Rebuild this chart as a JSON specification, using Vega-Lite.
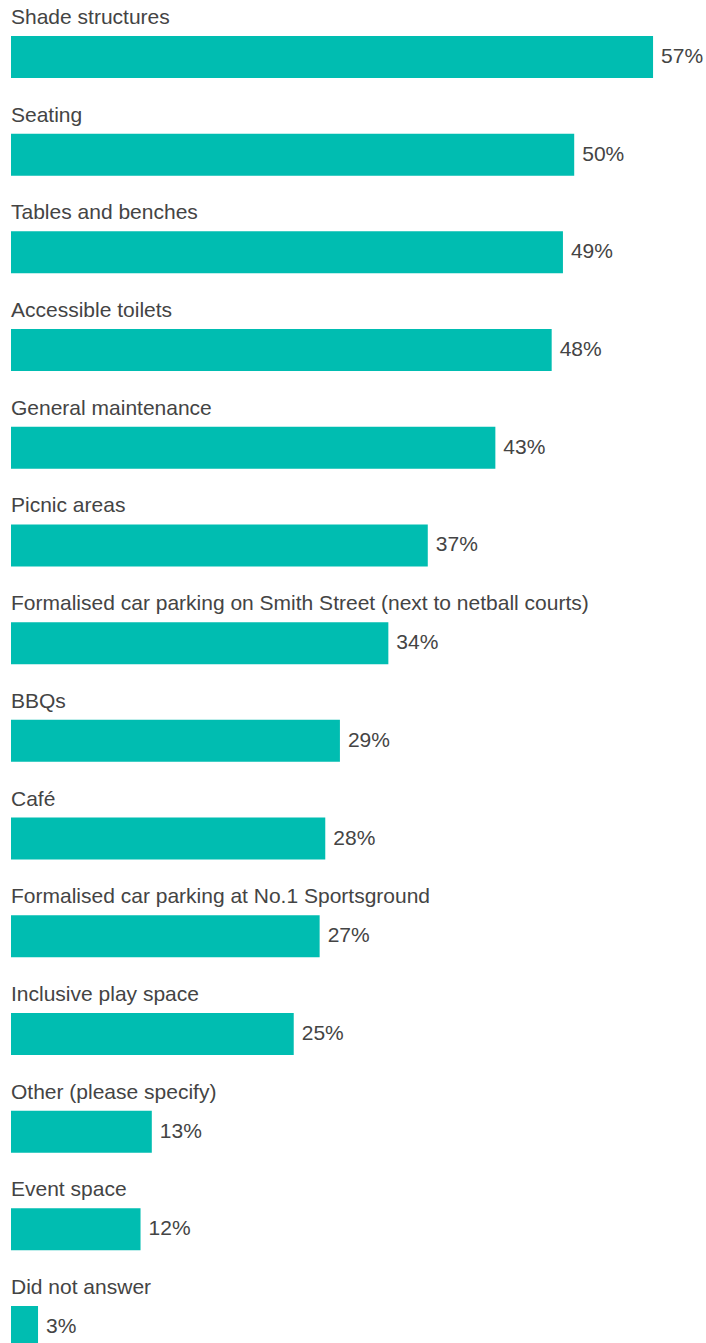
{
  "$schema": "https://vega.github.io/schema/vega-lite/v6.json",
  "autosize": {"type": "none"},
  "padding": {"left": 11, "top": 0, "right": 0, "bottom": 0},
  "width": 695,
  "height": 1384,
  "background": "#ffffff",
  "config": {"view": {"stroke": null}, "font": "Liberation Sans"},
  "data": {
    "values": [
      {"item": "Shade structures", "pct": 57, "label": "57%"},
      {"item": "Seating", "pct": 50, "label": "50%"},
      {"item": "Tables and benches", "pct": 49, "label": "49%"},
      {"item": "Accessible toilets", "pct": 48, "label": "48%"},
      {"item": "General maintenance", "pct": 43, "label": "43%"},
      {"item": "Picnic areas", "pct": 37, "label": "37%"},
      {"item": "Formalised car parking on Smith Street (next to netball courts)", "pct": 33.5, "label": "34%"},
      {"item": "BBQs", "pct": 29.2, "label": "29%"},
      {"item": "Café", "pct": 27.9, "label": "28%"},
      {"item": "Formalised car parking at No.1 Sportsground", "pct": 27.4, "label": "27%"},
      {"item": "Inclusive play space", "pct": 25.1, "label": "25%"},
      {"item": "Other (please specify)", "pct": 12.5, "label": "13%"},
      {"item": "Event space", "pct": 11.5, "label": "12%"},
      {"item": "Did not answer", "pct": 2.4, "label": "3%"}
    ]
  },
  "encoding": {
    "y": {
      "field": "item",
      "type": "nominal",
      "sort": null,
      "axis": null,
      "scale": {"paddingInner": 0.57, "paddingOuter": 0.368}
    }
  },
  "layer": [
    {
      "mark": {"type": "bar", "color": "#00BDB1"},
      "encoding": {
        "x": {"field": "pct", "type": "quantitative", "axis": null, "scale": {"domain": [0, 61.7], "nice": false}}
      }
    },
    {
      "mark": {"type": "text", "align": "left", "baseline": "middle", "dx": 8, "fontSize": 21, "color": "#444444"},
      "encoding": {
        "x": {"field": "pct", "type": "quantitative"},
        "text": {"field": "label", "type": "nominal"}
      }
    },
    {
      "mark": {"type": "text", "align": "left", "baseline": "middle", "dy": -39, "x": 0, "fontSize": 21, "color": "#444444"},
      "encoding": {
        "text": {"field": "item", "type": "nominal"}
      }
    }
  ]
}
